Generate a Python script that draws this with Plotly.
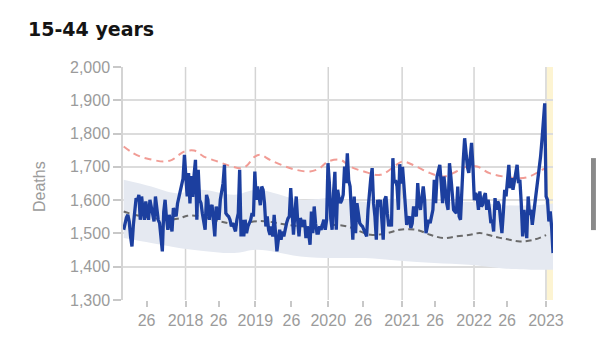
import plotly.graph_objects as go

# Weekly deaths, 15-44 years (week index 0 = 2017 week 8)
deaths = [
    1511, 1530, 1548, 1556, 1536, 1490, 1461, 1525, 1575, 1606,
    1598, 1616, 1541, 1611, 1570, 1541, 1596, 1565, 1541, 1601,
    1575, 1548, 1536, 1611, 1565, 1541, 1531, 1495, 1446, 1565,
    1601, 1545, 1511, 1556, 1530, 1506, 1576, 1560, 1551, 1590,
    1611, 1626, 1641, 1665, 1736, 1650, 1611, 1681, 1590, 1672,
    1610, 1676, 1721, 1541, 1691, 1601, 1591, 1560, 1541, 1511,
    1616, 1601, 1541, 1575, 1586, 1531, 1491, 1581, 1555, 1541,
    1601, 1631, 1651, 1706, 1561, 1555, 1551, 1541, 1521, 1531,
    1515, 1506, 1541, 1560, 1691, 1491, 1541, 1491, 1541, 1501,
    1521, 1530, 1541, 1561, 1551, 1686, 1601, 1641, 1610, 1585,
    1641, 1631, 1591, 1521, 1551, 1510, 1496, 1521, 1491, 1556,
    1501, 1446, 1480, 1511, 1481, 1506, 1491, 1515, 1531, 1545,
    1551, 1636, 1551, 1496, 1560, 1611, 1541, 1491, 1546, 1530,
    1521, 1541, 1486, 1521, 1500, 1466, 1566, 1501, 1581, 1530,
    1501, 1501, 1521, 1511, 1525, 1541, 1511, 1541, 1711, 1651,
    1545, 1511, 1621, 1685, 1511, 1631, 1606, 1591, 1600, 1616,
    1701, 1651, 1741, 1660, 1641, 1571, 1481, 1611, 1501, 1591,
    1560, 1531, 1525, 1521, 1511, 1500, 1491, 1571, 1631, 1665,
    1696, 1591, 1551, 1481, 1601, 1580, 1601, 1531, 1481, 1601,
    1611, 1560, 1521, 1541, 1521, 1726, 1651, 1660, 1641, 1571,
    1708, 1650, 1700, 1645, 1575, 1526, 1540, 1551, 1516, 1530,
    1581, 1560, 1551, 1651, 1591, 1571, 1620, 1641, 1601, 1501,
    1521, 1541, 1531, 1550, 1571, 1661, 1591, 1671, 1690, 1706,
    1651, 1591, 1671, 1620, 1591, 1571, 1711, 1671, 1601, 1571,
    1565, 1561, 1641, 1551, 1541, 1651, 1720, 1786, 1740, 1700,
    1682, 1725, 1772, 1700, 1600, 1621, 1611, 1571, 1626, 1581,
    1586, 1610, 1621, 1571, 1601, 1571, 1531, 1540, 1506, 1606,
    1571, 1596, 1586, 1540, 1501, 1561, 1631, 1611, 1650, 1706,
    1636, 1666, 1631, 1661, 1690, 1706, 1651, 1661, 1591, 1491,
    1571, 1530, 1486, 1611, 1556, 1571, 1526, 1560, 1591, 1631,
    1651, 1691, 1731, 1780, 1831, 1891, 1611, 1601, 1536, 1566,
    1520, 1441,
]
weeks = list(range(len(deaths)))

# Upper threshold (red dashed)
upper_wk = [0, 5, 12, 19, 29, 35, 40, 44, 51, 58, 68, 77, 85, 89, 95, 99, 106, 116,
            125, 135, 142, 148, 157, 164, 174, 186, 196, 202, 212, 222, 232, 241,
            248, 256, 265, 275, 287, 294, 303, 305]
upper_val = [1761, 1746, 1731, 1723, 1716, 1721, 1736, 1746, 1749, 1731, 1716, 1703,
             1696, 1703, 1731, 1736, 1721, 1703, 1691, 1686, 1696, 1716, 1721, 1701,
             1686, 1676, 1701, 1716, 1701, 1681, 1671, 1686, 1700, 1701, 1681, 1671,
             1666, 1671, 1691, 1695]

# Expected deaths (grey dashed)
exp_wk = [0, 8, 22, 32, 41, 46, 56, 70, 85, 94, 104, 118, 133, 150, 162, 179, 191,
          200, 212, 222, 232, 241, 251, 258, 268, 277, 287, 297, 306]
exp_val = [1566, 1556, 1546, 1541, 1546, 1553, 1551, 1536, 1526, 1536, 1536, 1526,
           1521, 1526, 1521, 1496, 1501, 1511, 1511, 1496, 1486, 1491, 1496, 1501,
           1491, 1483, 1476, 1481, 1495]

# Normal range band
band_wk = [0, 20, 38, 56, 80, 97, 128, 152, 175, 200, 225, 250, 275, 300, 311]
band_hi = [1661, 1641, 1621, 1631, 1616, 1631, 1601, 1606, 1595, 1605, 1595, 1595,
           1585, 1585, 1590]
band_lo = [1486, 1471, 1458, 1448, 1441, 1451, 1431, 1426, 1426, 1418, 1411, 1406,
           1395, 1391, 1391]

tick_pos = [16.6, 44.8, 68.7, 95.4, 121.5, 148.2, 173.5, 201.7, 225.6, 253.8, 277.7, 305.9]
tick_text = ["26", "2018", "26", "2019", "26", "2020", "26", "2021", "26", "2022", "26", "2023"]
year_pos = [44.8, 95.4, 148.2, 201.7, 253.8, 305.9]

GRAY_TXT = "#9b9b9b"
FONT = "Liberation Sans, Arial, sans-serif"

fig = go.Figure()
fig.add_trace(go.Scatter(x=band_wk, y=band_lo, mode="lines", line=dict(width=0, shape="spline"),
                         hoverinfo="skip", showlegend=False))
fig.add_trace(go.Scatter(x=band_wk, y=band_hi, mode="lines", line=dict(width=0, shape="spline"),
                         fill="tonexty", fillcolor="#e5e9f1", hoverinfo="skip", showlegend=False))
fig.add_trace(go.Scatter(x=exp_wk, y=exp_val, mode="lines",
                         line=dict(color="#6a6a6a", width=2, dash="6px,4px", shape="spline"),
                         showlegend=False))
fig.add_trace(go.Scatter(x=upper_wk, y=upper_val, mode="lines",
                         line=dict(color="#f19c95", width=2, dash="7px,5px", shape="spline"),
                         showlegend=False))
fig.add_trace(go.Scatter(x=weeks, y=deaths, mode="lines",
                         line=dict(color="#1c3f9f", width=3.3),
                         showlegend=False))

shapes = []
shapes.append(dict(type="rect", xref="x", yref="paper", x0=306.3, x1=311, y0=0, y1=1,
                   fillcolor="#fdf4d2", line=dict(width=0), layer="below"))
for p in year_pos:
    shapes.append(dict(type="line", xref="x", yref="paper", x0=p, x1=p, y0=0, y1=1,
                       line=dict(color="#d4d4d4", width=1.5), layer="below"))
# scrollbar artifact
shapes.append(dict(type="rect", xref="paper", yref="paper", x0=1.0884, x1=1.0998,
                   y0=0.30, y1=0.609, fillcolor="#8a8a8a", line=dict(width=0)))

fig.update_layout(
    width=600, height=353,
    margin=dict(l=123, r=47, t=67, b=53),
    paper_bgcolor="white", plot_bgcolor="white",
    title=dict(text="<b>15-44 years</b>",
               font=dict(family="DejaVu Sans, sans-serif", size=19, color="#141414"),
               xref="container", yref="container", x=28/600, y=1-29/353,
               xanchor="left", yanchor="middle"),
    shapes=shapes,
    xaxis=dict(range=[-0.5, 311], tickvals=tick_pos, ticktext=tick_text, showgrid=False,
               zeroline=False, showline=False, ticks="outside", ticklen=6, tickwidth=1.5,
               tickcolor="#c8c8c8", tickfont=dict(family=FONT, size=16, color=GRAY_TXT)),
    yaxis=dict(range=[1300, 2000], dtick=100, tickformat=",", showgrid=True,
               gridcolor="#dcdcdc", gridwidth=1.5, zeroline=False, showline=True,
               linecolor="#d4d4d4", linewidth=1.5, ticks="outside", ticklen=8, tickwidth=1.5,
               tickcolor="#c8c8c8", tickfont=dict(family=FONT, size=16, color=GRAY_TXT)),
    annotations=[dict(text="Deaths", textangle=-90, xref="paper", yref="paper",
                      x=(40-123)/430, y=0.485, xanchor="center", yanchor="middle",
                      showarrow=False,
                      font=dict(family=FONT, size=16, color=GRAY_TXT))],
)

fig.write_html("out.html")
